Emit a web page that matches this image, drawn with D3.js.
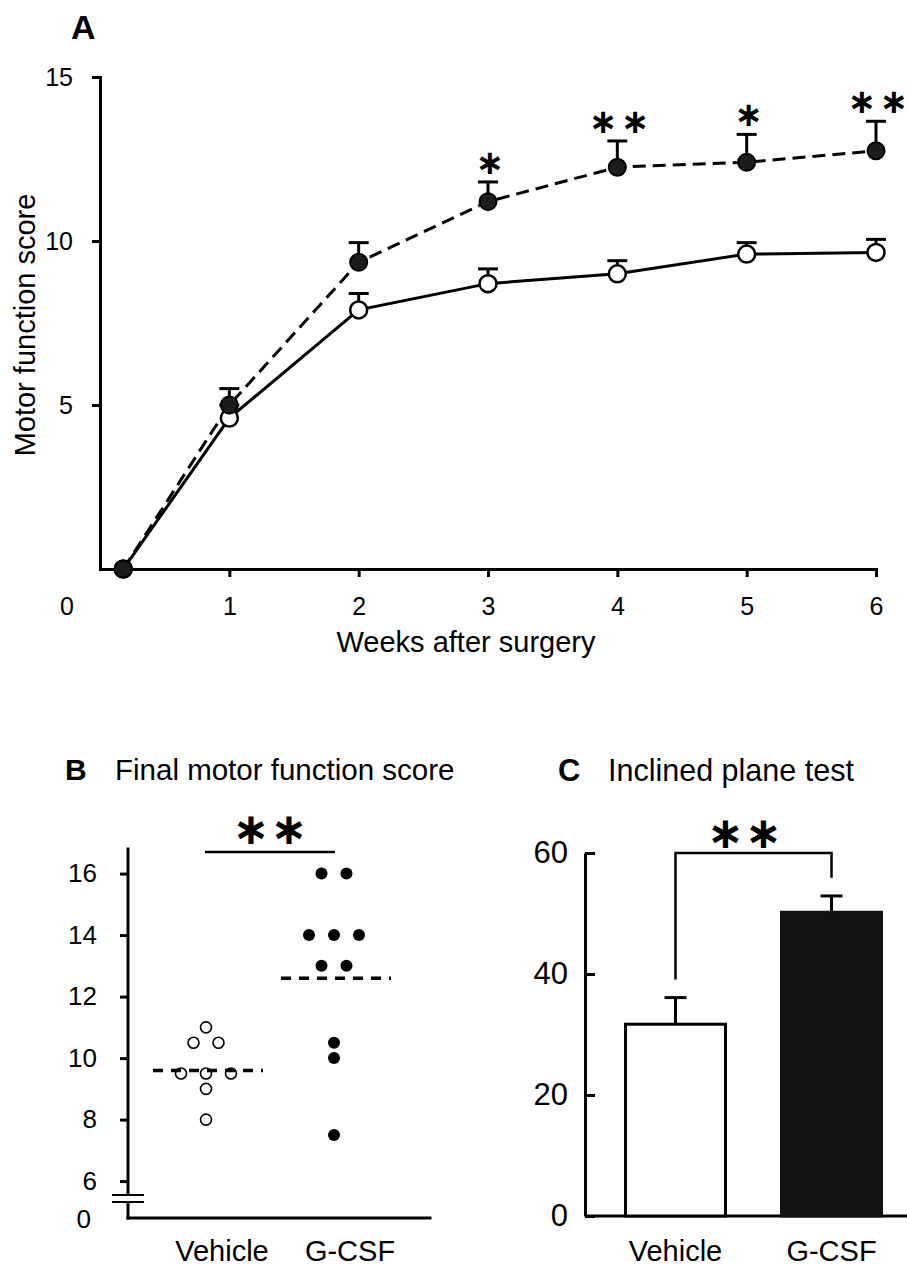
<!DOCTYPE html>
<html>
<head>
<meta charset="utf-8">
<script src="https://cdn.jsdelivr.net/npm/d3@7"></script>
<style>
body{margin:0;background:#fff}
text{font-family:"Liberation Sans",Arial,sans-serif;fill:#000}
</style>
</head>
<body>
<svg id="fig"></svg>
<script>
// A: motor function score by week
var weeks = [0.18, 1, 2, 3, 4, 5, 6];
var vehicleScore = [0, 4.6, 7.9, 8.7, 9.0, 9.6, 9.65];
var vehicleSem = [0, 0.4, 0.5, 0.45, 0.4, 0.35, 0.4];
var gcsfScore = [0, 5.0, 9.35, 11.2, 12.25, 12.4, 12.75];
var gcsfSem = [0, 0.5, 0.6, 0.6, 0.8, 0.85, 0.9];
var weekStars = [0, 0, 0, 1, 2, 1, 2];
var weekTicks = [1, 2, 3, 4, 5, 6];
var scoreTicks = [5, 10, 15];

// B: final motor function score
var groups = ["Vehicle", "G-CSF"];
var finalVehicle = [11, 10.5, 10.5, 9.5, 9.5, 9.5, 9, 8];
var finalGcsf = [16, 16, 14, 14, 14, 13, 13, 10.5, 10, 7.5];
var finalMean = [9.6, 12.6];
var finalTicks = [6, 8, 10, 12, 14, 16];

// C: inclined plane test
var inclineMean = [31.7, 50.2];
var inclineSem = [4.4, 2.7];
var inclineTicks = [0, 20, 40, 60];

var svg = d3.select("#fig").attr("width", 907).attr("height", 1270);

function styleAxis(g, size) {
    g.attr("font-family", null).attr("font-size", size);
    g.selectAll("path,line").attr("stroke", "#000").attr("stroke-width", 3);
}

function stars(g, n, cx, cy, gap, size) {
    for (var k = 0; k < n; k++) {
        g.append("text")
            .attr("x", cx + (k - (n - 1) / 2) * gap)
            .attr("y", cy)
            .attr("text-anchor", "middle")
            .attr("dominant-baseline", "central")
            .style("font-family", "DejaVu Sans")
            .style("font-weight", "bold")
            .style("font-size", size + "px")
            .text("\u2217");
    }
}

// ---------- panel A ----------
var xA = d3.scaleLinear().domain([0, 6]).range([100, 876]);
var yA = d3.scaleLinear().domain([0, 15]).range([569, 77]);
var gA = svg.append("g");

gA.append("g").attr("transform", "translate(0,569)")
    .call(d3.axisBottom(xA).tickValues(weekTicks).tickFormat(d3.format("d"))
        .tickSize(8).tickSizeOuter(0).tickPadding(20))
    .call(styleAxis, 25);
gA.append("g").attr("transform", "translate(100,0)")
    .call(d3.axisLeft(yA).tickValues(scoreTicks).tickSize(8).tickSizeOuter(0).tickPadding(19))
    .call(styleAxis, 25);
gA.selectAll("path.domain").attr("stroke-linecap", "square");

gA.append("text").attr("x", xA(0) - 33).attr("y", 615)
    .attr("text-anchor", "middle").style("font-size", "25px").text("0");
gA.append("text").attr("x", 466).attr("y", 652)
    .attr("text-anchor", "middle").style("font-size", "29px").text("Weeks after surgery");
gA.append("text").attr("transform", "translate(35,325) rotate(-90)")
    .attr("text-anchor", "middle").style("font-size", "29px").text("Motor function score");
gA.append("text").attr("x", 71).attr("y", 39)
    .style("font-size", "34px").style("font-weight", "bold").text("A");

var lineA = d3.line()
    .x(function(d, i) { return xA(weeks[i]); })
    .y(function(d) { return yA(d); });

gA.append("path").datum(vehicleScore).attr("d", lineA)
    .attr("fill", "none").attr("stroke", "#000").attr("stroke-width", 3);
gA.append("path").datum(gcsfScore).attr("d", lineA)
    .attr("fill", "none").attr("stroke", "#000").attr("stroke-width", 3)
    .attr("stroke-dasharray", "13,7");

function errorBars(vals, sems) {
    vals.forEach(function(v, i) {
        if (!sems[i]) return;
        var x = xA(weeks[i]);
        gA.append("line").attr("x1", x).attr("x2", x)
            .attr("y1", yA(v)).attr("y2", yA(v + sems[i]))
            .attr("stroke", "#000").attr("stroke-width", 3);
        gA.append("line").attr("x1", x - 10).attr("x2", x + 10)
            .attr("y1", yA(v + sems[i])).attr("y2", yA(v + sems[i]))
            .attr("stroke", "#000").attr("stroke-width", 3);
    });
}
errorBars(vehicleScore, vehicleSem);
errorBars(gcsfScore, gcsfSem);

gA.selectAll("circle.veh").data(vehicleScore).enter().append("circle")
    .attr("class", "veh")
    .attr("cx", function(d, i) { return xA(weeks[i]); })
    .attr("cy", function(d) { return yA(d); })
    .attr("r", 8.5)
    .attr("fill", "#fff").attr("stroke", "#000").attr("stroke-width", 2.5);
gA.selectAll("circle.gcsf").data(gcsfScore).enter().append("circle")
    .attr("class", "gcsf")
    .attr("cx", function(d, i) { return xA(weeks[i]); })
    .attr("cy", function(d) { return yA(d); })
    .attr("r", 8.5)
    .attr("fill", "#1c1c1c").attr("stroke", "#000").attr("stroke-width", 2);

weekStars.forEach(function(n, i) {
    if (!n) return;
    stars(gA, n, xA(weeks[i]) + 2, yA(gcsfScore[i] + gcsfSem[i]) - 20, 32, 34);
});

// ---------- panel B ----------
var xB = d3.scalePoint().domain(groups).range([206, 334]);
var yB = d3.scaleLinear().domain([4.8, 16.8]).range([1218, 849]);
var gB = svg.append("g");

gB.append("g").attr("transform", "translate(128,0)")
    .call(d3.axisLeft(yB).tickValues(finalTicks).tickSize(8).tickPadding(23))
    .call(styleAxis, 26)
    .select("path.domain").remove();
gB.append("line").attr("x1", 128).attr("x2", 128)
    .attr("y1", yB(16.8)).attr("y2", yB(4.8))
    .attr("stroke", "#000").attr("stroke-width", 3).attr("stroke-linecap", "square");
gB.append("line").attr("x1", 128).attr("x2", 430)
    .attr("y1", yB(4.8)).attr("y2", yB(4.8))
    .attr("stroke", "#000").attr("stroke-width", 3).attr("stroke-linecap", "square");
// axis break
gB.append("rect").attr("x", 120).attr("y", 1195).attr("width", 16).attr("height", 7).attr("fill", "#fff");
[1195, 1202].forEach(function(y) {
    gB.append("line").attr("x1", 112).attr("x2", 144).attr("y1", y).attr("y2", y)
        .attr("stroke", "#000").attr("stroke-width", 2);
});
gB.append("text").attr("x", 91).attr("y", 1228)
    .attr("text-anchor", "end").style("font-size", "26px").text("0");

function spread(vals) {
    return vals.map(function(v, i) {
        var same = vals.filter(function(w) { return w === v; }).length;
        var k = vals.slice(0, i).filter(function(w) { return w === v; }).length;
        return (k - (same - 1) / 2) * 25;
    });
}
var offV = spread(finalVehicle), offG = spread(finalGcsf);

gB.selectAll("circle.fv").data(finalVehicle).enter().append("circle")
    .attr("cx", function(d, i) { return xB("Vehicle") + offV[i]; })
    .attr("cy", function(d) { return yB(d); })
    .attr("r", 5.5).attr("fill", "#fff").attr("stroke", "#000").attr("stroke-width", 1.6);
gB.selectAll("circle.fg").data(finalGcsf).enter().append("circle")
    .attr("cx", function(d, i) { return xB("G-CSF") + offG[i]; })
    .attr("cy", function(d) { return yB(d); })
    .attr("r", 6).attr("fill", "#000");

finalMean.forEach(function(m, i) {
    var cx = xB(groups[i]);
    gB.append("line").attr("x1", cx - 53).attr("x2", cx + 57)
        .attr("y1", yB(m)).attr("y2", yB(m))
        .attr("stroke", "#000").attr("stroke-width", 3.5).attr("stroke-dasharray", "10,8");
});

gB.append("line").attr("x1", xB("Vehicle") - 1).attr("x2", xB("G-CSF") + 1)
    .attr("y1", yB(16.7)).attr("y2", yB(16.7))
    .attr("stroke", "#000").attr("stroke-width", 2.5);
stars(gB, 2, (xB("Vehicle") + xB("G-CSF")) / 2, 828, 38, 44);

groups.forEach(function(g) {
    gB.append("text").attr("x", xB(g) + 16).attr("y", 1261)
        .attr("text-anchor", "middle").style("font-size", "29px").text(g);
});
gB.append("text").attr("x", 65).attr("y", 780)
    .style("font-size", "30px").style("font-weight", "bold").text("B");
gB.append("text").attr("x", 115).attr("y", 780)
    .style("font-size", "29.5px").text("Final motor function score");

// ---------- panel C ----------
var xC = d3.scalePoint().domain(groups).range([675.5, 831.5]);
var yC = d3.scaleLinear().domain([0, 60]).range([1216, 853]);
var gC = svg.append("g");

gC.append("g").attr("transform", "translate(585,0)")
    .call(d3.axisLeft(yC).tickValues(inclineTicks).tickSize(-10).tickSizeOuter(0).tickPadding(17))
    .call(styleAxis, 31);
gC.append("line").attr("x1", 585).attr("x2", 910)
    .attr("y1", yC(0)).attr("y2", yC(0))
    .attr("stroke", "#000").attr("stroke-width", 3);

gC.selectAll("rect.bar").data(inclineMean).enter().append("rect")
    .attr("x", function(d, i) { return xC(groups[i]) - 50; })
    .attr("y", function(d) { return yC(d); })
    .attr("width", 100)
    .attr("height", function(d) { return yC(0) - yC(d); })
    .attr("fill", function(d, i) { return i ? "#111" : "#fff"; })
    .attr("stroke", function(d, i) { return i ? "#111" : "#000"; })
    .attr("stroke-width", 3);

inclineMean.forEach(function(m, i) {
    var x = xC(groups[i]), top = yC(m + inclineSem[i]);
    gC.append("line").attr("x1", x).attr("x2", x).attr("y1", yC(m)).attr("y2", top)
        .attr("stroke", "#000").attr("stroke-width", 3);
    gC.append("line").attr("x1", x - 11).attr("x2", x + 11).attr("y1", top).attr("y2", top)
        .attr("stroke", "#000").attr("stroke-width", 3);
});

var capV = inclineMean[0] + inclineSem[0], capG = inclineMean[1] + inclineSem[1];
gC.append("path")
    .attr("d", "M" + xC("Vehicle") + "," + yC(capV + 3) + "V" + yC(60) +
               "H" + xC("G-CSF") + "V" + yC(capG + 3))
    .attr("fill", "none").attr("stroke", "#000").attr("stroke-width", 2.5);
stars(gC, 2, (xC("Vehicle") + xC("G-CSF")) / 2 - 9, 832, 38, 44);

groups.forEach(function(g) {
    gC.append("text").attr("x", xC(g)).attr("y", 1261)
        .attr("text-anchor", "middle").style("font-size", "29px").text(g);
});
gC.append("text").attr("x", 558).attr("y", 781)
    .style("font-size", "31px").style("font-weight", "bold").text("C");
gC.append("text").attr("x", 608).attr("y", 781)
    .style("font-size", "30.5px").text("Inclined plane test");
</script>
</body>
</html>
